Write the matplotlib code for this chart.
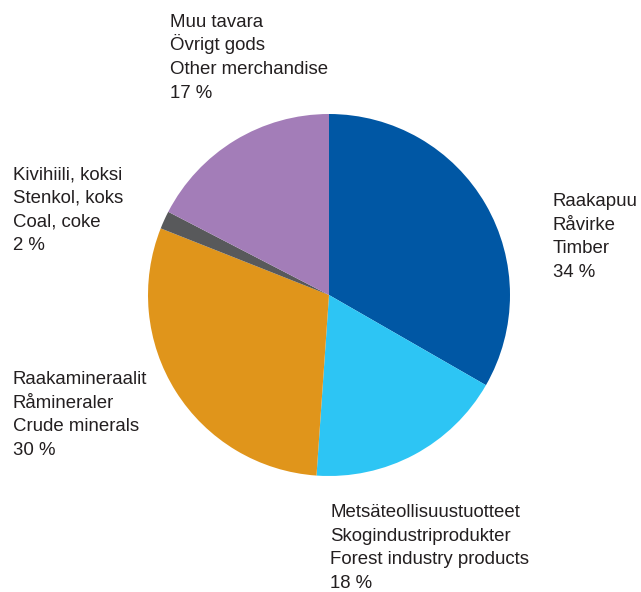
import matplotlib.pyplot as plt

plt.rcParams['font.family'] = ['Liberation Sans', 'DejaVu Sans']

# osuudet (%), myötäpäivään ylhäältä
labels = [["Raakapuu", "Råvirke", "Timber", "34 %"],
          ["Metsäteollisuustuotteet", "Skogindustriprodukter", "Forest industry products", "18 %"],
          ["Raakamineraalit", "Råmineraler", "Crude minerals", "30 %"],
          ["Kivihiili, koksi", "Stenkol, koks", "Coal, coke", "2 %"],
          ["Muu tavara", "Övrigt gods", "Other merchandise", "17 %"]]
values = [33.3, 17.8, 29.9, 1.6, 17.4]
colors = ["#0057a4", "#2dc5f4", "#e0951b", "#58595b", "#a37db8"]

# tekstien paikat pikseleinä (vasen reuna, ensimmäisen rivin perusviiva)
label_pos = [(553, 206), (330, 517), (13, 384), (13, 179), (170, 26.7)]
line_step = 23.7

W, H = 641, 592
fig = plt.figure(figsize=(W / 100, H / 100), dpi=100)
cx, cy, r = 329, 295, 181
ax = fig.add_axes([(cx - r) / W, (H - cy - r) / H, 2 * r / W, 2 * r / H])
ax.pie(values, colors=colors, startangle=90, counterclock=False,
       wedgeprops=dict(linewidth=0), radius=1)
ax.set_xlim(-1, 1)
ax.set_ylim(-1, 1)
ax.set_aspect('equal')
ax.axis('off')

for lab, (x, y) in zip(labels, label_pos):
    for i, line in enumerate(lab):
        fig.text(x / W, 1 - (y + i * line_step) / H, line, ha='left',
                 va='baseline', fontsize=13.4, color='#231f20')

fig.savefig("out.png", dpi=100)
